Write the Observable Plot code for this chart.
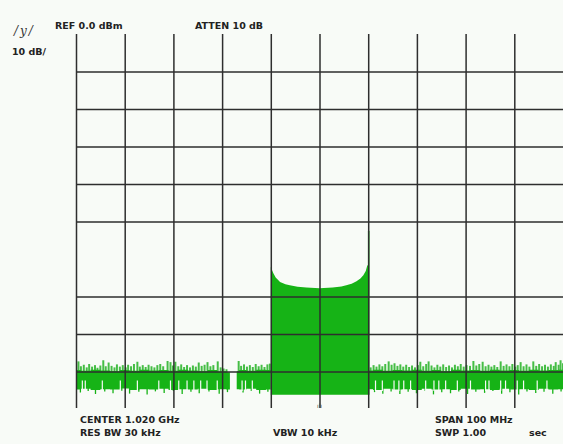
<!DOCTYPE html>
<html><head><meta charset="utf-8">
<script src="https://cdn.jsdelivr.net/npm/d3@7"></script>
<script src="https://cdn.jsdelivr.net/npm/@observablehq/plot@0.6"></script>
<style>html,body{margin:0;padding:0;background:#f8fbf7;overflow:hidden}</style>
</head><body><div id="chart"></div>
<script>
// Frequency axis (MHz) and level axis (dBm)
const gridFreq = [970, 980, 990, 1000, 1010, 1020, 1030, 1040, 1050, 1060];
const gridLevel = [-10, -20, -30, -40, -50, -70, -80, -90];

// Noise floor body (solid band), per segment
const bodyFreq = [970,972,974,976,978,980,982,984,986,988,990,992,994,996,998,1000,1001.6,
  1003.0,1004,1006,1008,1010,
  1030,1032,1034,1036,1038,1040,1042,1044,1046,1048,1050,1052,1054,1056,1058,1060,1062,1064,1066,1068,1070];
const bodyTop = [-89.6,-89.8,-89.5,-89.7,-89.9,-89.6,-89.8,-89.5,-89.7,-89.6,-89.8,-89.5,-89.7,-89.9,-89.6,-90.0,-90.2,
  -89.9,-89.6,-89.8,-89.5,-89.6,
  -89.7,-89.5,-89.8,-89.6,-89.7,-89.5,-89.8,-89.6,-89.9,-89.5,-89.7,-89.6,-89.8,-89.5,-89.7,-89.6,-89.8,-89.5,-89.7,-89.6,-89.5];
const bodyBot = [-94.8,-94.6,-94.9,-94.7,-94.8,-94.5,-94.9,-94.7,-94.8,-94.6,-94.9,-94.7,-94.8,-94.6,-94.9,-94.7,-94.8,
  -94.7,-94.8,-94.6,-94.9,-94.8,
  -94.7,-94.9,-94.6,-94.8,-94.7,-94.9,-94.6,-94.8,-94.7,-94.9,-94.6,-94.8,-94.7,-94.9,-94.6,-94.8,-94.7,-94.9,-94.6,-94.8,-94.7];
const bodySeg = [..."LLLLLLLLLLLLLLLLL", ..."MMMMM", ..."RRRRRRRRRRRRRRRRRRRRR"];

// Upward noise spikes
const hiFreq = [970.4,970.9,971.5,972.1,972.6,973.2,973.8,974.3,974.9,975.5,976.0,976.6,977.2,977.8,978.3,978.9,979.5,980.1,980.6,981.2,981.8,982.5,983.0,983.6,984.2,984.8,985.4,986.0,986.6,987.2,987.8,988.7,989.3,989.8,990.3,990.9,991.5,992.1,992.7,993.3,993.9,994.5,995.1,995.7,996.3,996.9,997.5,998.1,999.0,999.6,1000.2,1000.8,
  1003.3,1003.8,1004.4,1005.0,1005.6,1006.2,1006.8,1007.4,1008.0,1008.6,1009.2,1009.7,
  1030.4,1031.0,1031.6,1032.2,1032.8,1033.4,1034.1,1034.7,1035.3,1035.9,1036.5,1037.1,1037.7,1038.3,1038.9,1039.5,1040.1,1040.6,1041.2,1041.8,1042.3,1042.9,1043.5,1044.1,1044.7,1045.3,1045.9,1046.5,1047.1,1047.7,1048.3,1048.9,1049.5,1050.1,1050.8,1051.5,1052.1,1052.7,1053.4,1054.0,1054.6,1055.2,1055.8,1056.4,1057.1,1057.7,1058.3,1058.9,1059.5,1060.1,1060.6,1061.2,1061.8,1062.4,1063.0,1063.8,1064.4,1065.0,1065.6,1066.2,1066.8,1067.4,1068.0,1068.4,1069.0,1069.4,1069.9];
const hiLevel = [-87.3,-88.6,-88.2,-88.9,-88.0,-88.7,-88.3,-89.0,-88.4,-87.0,-88.6,-87.6,-88.5,-88.9,-88.1,-88.7,-88.3,-88.9,-88.2,-88.6,-88.0,-87.4,-88.7,-88.3,-88.8,-88.2,-88.6,-88.9,-88.3,-88.0,-88.6,-87.2,-87.5,-88.4,-87.4,-88.6,-88.1,-88.8,-88.3,-88.9,-88.4,-88.7,-87.6,-88.5,-88.2,-87.5,-88.6,-88.3,-87.3,-88.9,-89.2,-89.4,
  -87.2,-88.5,-88.1,-88.7,-88.3,-88.8,-88.0,-88.6,-88.2,-88.8,-88.1,-87.9,
  -88.9,-88.3,-88.7,-88.1,-88.6,-88.0,-87.3,-88.2,-87.8,-88.5,-88.1,-88.7,-88.2,-88.8,-88.4,-88.9,-88.3,-87.4,-88.6,-88.0,-87.3,-88.4,-88.9,-88.2,-88.7,-88.1,-88.8,-88.4,-88.9,-88.2,-88.6,-88.0,-88.7,-88.3,-88.5,-87.2,-88.4,-88.0,-87.4,-88.6,-88.2,-88.7,-88.3,-88.8,-87.3,-88.5,-88.1,-88.6,-88.0,-88.7,-88.3,-87.5,-88.6,-88.1,-88.7,-87.3,-88.5,-88.0,-88.6,-88.2,-88.7,-88.1,-88.5,-87.5,-88.2,-87.0,-87.8];

// Downward noise spikes
const loFreq = [970.8,972.4,973.9,975.8,977.5,979.3,980.9,982.8,984.5,986.2,988.0,989.9,991.7,993.5,995.2,997.2,999.3,1001.0,1004.2,1005.9,1007.6,1009.3,
  1031.2,1032.9,1034.6,1036.4,1038.1,1039.8,1041.6,1043.3,1045.0,1046.8,1048.5,1050.3,1052.0,1053.8,1055.5,1057.3,1059.0,1060.8,1062.5,1064.3,1066.0,1067.8,1069.5];
const loLevel = [-95.6,-95.2,-96.0,-95.3,-95.8,-95.1,-95.9,-95.4,-96.1,-95.3,-95.7,-95.2,-96.0,-95.4,-95.8,-95.3,-95.9,-95.5,-95.6,-95.2,-95.9,-95.4,
  -95.5,-95.9,-95.3,-96.0,-95.4,-95.8,-95.2,-96.1,-95.5,-95.8,-95.3,-96.0,-95.4,-95.7,-95.2,-95.9,-95.5,-96.1,-95.3,-95.7,-95.4,-95.9,-95.3];

// Gaps (trace minimum higher) inside the lower noise band
const gapFreq = [971.2,971.8,975.3,979.0,982.5,986.9,989.3,991.0,992.7,994.1,995.5,996.8,998.9,1004.0,1004.7,1006.1,
  1031.4,1032.8,1035.2,1036.2,1037.2,1038.6,1041.7,1043.4,1044.4,1045.8,1048.2,1050.9,1054.0,1054.7,1057.1,1058.1,1060.5,1061.8,1064.6,1066.6];

// Signal block (20 MHz wide) top envelope
const sigFreq = [1010.0,1010.5,1011.0,1011.9,1013.0,1013.9,1015.5,1017.3,1020.0,1022.7,1024.5,1025.5,1026.6,1027.6,1028.4,1029.0,1029.5,1029.8,1030.0];
const sigTop = [-62.1,-63.7,-64.9,-66.1,-66.7,-67.0,-67.4,-67.6,-67.8,-67.6,-67.3,-67.0,-66.6,-65.9,-65.2,-64.3,-63.2,-61.8,-61.5];
const sigFloor = -96.2;
const edgeFreq = [1030.0];
const edgeLevel = [-52.5];

const bg = "#f8fbf7";
const green = "#16b316";
const greenLight = "#45bd45";
const gridColor = "#2e2e2e";

const body = bodyFreq.map((f, i) => ({f, top: bodyTop[i], bot: bodyBot[i], seg: bodySeg[i]}));
const hi = hiFreq.map((f, i) => ({f, v: hiLevel[i]}));
const lo = loFreq.map((f, i) => ({f, v: loLevel[i]}));
const sig = sigFreq.map((f, i) => ({f, v: sigTop[i]}));
const edge = edgeFreq.map((f, i) => ({f, v: edgeLevel[i]}));

const chart = Plot.plot({
  width: 563, height: 444,
  marginLeft: 76, marginRight: 0, marginTop: 34, marginBottom: 35,
  x: {domain: [970, 1070], axis: null},
  y: {domain: [-100, 0], axis: null},
  style: {background: bg},
  marks: [
    Plot.ruleX(hi, {x: "f", y1: -90.5, y2: "v", stroke: greenLight, strokeWidth: 2}),
    Plot.ruleX(lo, {x: "f", y1: -94, y2: "v", stroke: green, strokeWidth: 1.3}),
    Plot.areaY(body, {x: "f", y1: "bot", y2: "top", z: "seg", fill: green, curve: "step"}),
    Plot.ruleX(gapFreq, {x: d => d, y1: -92.4, y2: -95.2, stroke: bg, strokeWidth: 1.2}),
    Plot.areaY(sig, {x: "f", y1: sigFloor, y2: "v", fill: green}),
    Plot.ruleX(edge, {x: "f", y1: sigFloor, y2: "v", stroke: green, strokeWidth: 1.6}),
    Plot.ruleY(gridLevel, {x1: 970, x2: 1070, stroke: gridColor, strokeWidth: 1.5}),
    Plot.ruleX(gridFreq, {y1: -99.7, y2: 0, stroke: gridColor, strokeWidth: 1.5})
  ]
});
document.getElementById("chart").appendChild(chart);

const svg = d3.select(chart);
const font = "'DejaVu Sans', sans-serif";
const labels = [
  {t: "REF 0.0 dBm", x: 55, y: 29},
  {t: "ATTEN 10 dB", x: 195, y: 29},
  {t: "10 dB/", x: 12, y: 55},
  {t: "CENTER 1.020 GHz", x: 80, y: 423},
  {t: "RES BW 30 kHz", x: 80, y: 436},
  {t: "VBW 10 kHz", x: 273, y: 436},
  {t: "SPAN 100 MHz", x: 435, y: 423},
  {t: "SWP 1.00", x: 435, y: 436},
  {t: "sec", x: 529, y: 436}
];
for (const l of labels) {
  svg.append("text").attr("x", l.x).attr("y", l.y).text(l.t)
    .attr("text-anchor", "start")
    .attr("font-family", font).attr("font-weight", "bold").attr("font-size", 9.5)
    .attr("fill", "#222");
}
svg.append("text").attr("x", 14).attr("y", 35).text("/y/")
  .attr("text-anchor", "start").attr("letter-spacing", 2)
  .attr("font-family", "'DejaVu Serif', serif").attr("font-style", "italic")
  .attr("font-size", 12).attr("fill", "#333");
svg.append("text").attr("x", 317).attr("y", 408).text("ılı")
  .attr("text-anchor", "start")
  .attr("font-family", font).attr("font-size", 6).attr("fill", "#444");
</script></body></html>
